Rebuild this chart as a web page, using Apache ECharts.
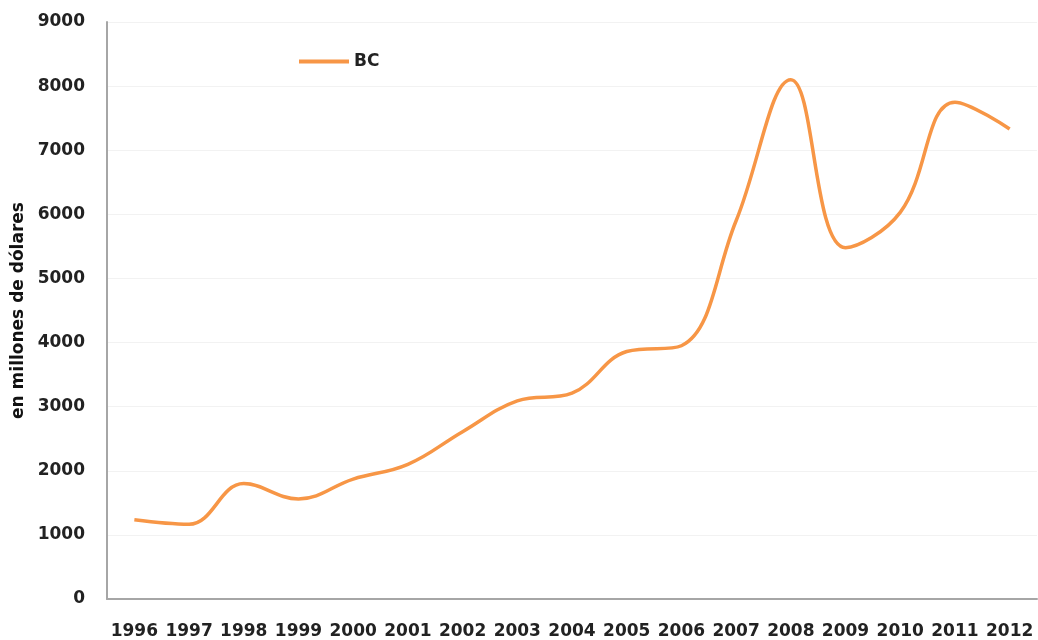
<!DOCTYPE html>
<html style="height: 100%">
<head>
  <meta charset="utf-8">
  <title>BC</title>
  <script src="https://cdn.jsdelivr.net/npm/echarts@6/dist/echarts.min.js"></script>
</head>
<body style="height: 100%; margin: 0; background: #fff">
  <div id="main" style="width: 1038px; height: 640px"></div>
  <script type="text/javascript">
    var years = ['1996', '1997', '1998', '1999', '2000', '2001', '2002', '2003', '2004',
                 '2005', '2006', '2007', '2008', '2009', '2010', '2011', '2012'];
    var bc = [1235, 1165, 1800, 1560, 1870, 2100, 2610, 3090, 3210,
              3860, 3950, 5900, 8100, 5480, 6030, 7750, 7330];
    var yTicks = { min: 0, max: 9000, interval: 1000 };

    var labelFont = { fontFamily: 'DejaVu Sans', fontWeight: 'bold', fontSize: 17, color: '#222' };

    var option = {
      animation: false,
      backgroundColor: '#fff',
      grid: { left: 107, right: 1, top: 22, bottom: 40, containLabel: false },
      legend: {
        left: 294, top: 48,
        icon: 'rect', itemWidth: 50, itemHeight: 4, itemGap: 6,
        textStyle: labelFont,
        data: ['BC']
      },
      xAxis: {
        type: 'category',
        data: years,
        axisLine: { lineStyle: { color: '#a6a6a6', width: 2 } },
        axisTick: { show: false },
        axisLabel: Object.assign({ interval: 0, margin: 24 }, labelFont)
      },
      yAxis: {
        type: 'value',
        min: yTicks.min, max: yTicks.max, interval: yTicks.interval,
        name: 'en millones de dólares',
        nameLocation: 'middle',
        nameGap: 72,
        nameTextStyle: { fontFamily: 'DejaVu Sans', fontWeight: 'bold', fontSize: 17, color: '#111' },
        axisLine: { show: true, lineStyle: { color: '#a6a6a6', width: 2 } },
        axisTick: { show: false },
        axisLabel: Object.assign({ margin: 22, formatter: function (v) { return String(v); } }, labelFont),
        splitLine: { lineStyle: { color: '#f2f2f2', width: 1 } }
      },
      series: [{
        name: 'BC',
        type: 'line',
        data: bc,
        smooth: 0.4,
        showSymbol: false,
        symbol: 'none',
        lineStyle: { color: '#f79646', width: 3.5 },
        itemStyle: { color: '#f79646' }
      }]
    };

    var chart = echarts.init(document.getElementById('main'));
    chart.setOption(option);
  </script>
</body>
</html>
